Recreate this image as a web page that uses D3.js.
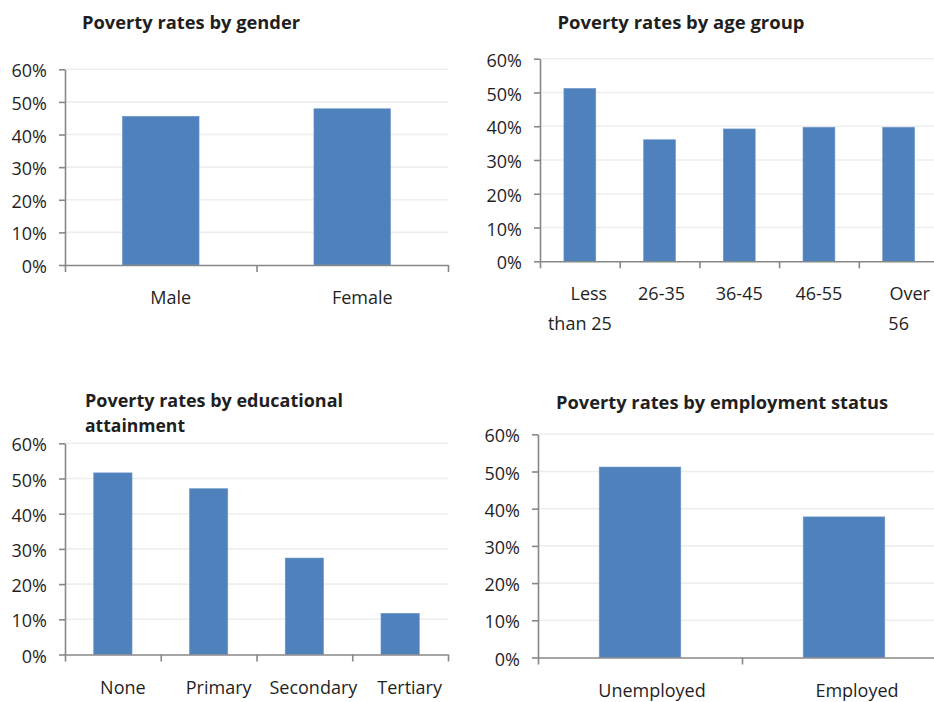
<!DOCTYPE html>
<html>
<head>
<meta charset="utf-8">
<script src="https://cdn.jsdelivr.net/npm/d3@7"></script>
<style>
  html, body { margin: 0; padding: 0; background: #ffffff; }
  svg { display: block; }
  text { font-family: "Open Sans", "Noto Sans", sans-serif; fill: #1f1f1f; }
</style>
</head>
<body>
<svg id="chart" width="934" height="702"></svg>
<script>
// Poverty rates (%) by population group
const genderCategories = ["Male", "Female"];
const genderRates = [45.6, 47.9];

const ageCategories = ["Less\nthan 25", "26-35", "36-45", "46-55", "Over\n56"];
const ageRates = [51.2, 36.0, 39.2, 39.7, 39.7];

const educationCategories = ["None", "Primary", "Secondary", "Tertiary"];
const educationRates = [51.6, 47.1, 27.4, 11.7];

const employmentCategories = ["Unemployed", "Employed"];
const employmentRates = [51.2, 37.8];

const rateTicks = [0, 10, 20, 30, 40, 50, 60];

const genderTitle = ["Poverty rates by gender"];
const ageTitle = ["Poverty rates by age group"];
const educationTitle = ["Poverty rates by educational", "attainment"];
const employmentTitle = ["Poverty rates by employment status"];

// Panel layout: plot area bounds, title placement and label nudges
const panels = [
  { categories: genderCategories, values: genderRates, title: genderTitle,
    left: 65, right: 448, top: 69.3, bottom: 265,
    titleX: 82, titleY: 28.5, titleWidths: [218], labelDx: [[10], [10]] },
  { categories: ageCategories, values: ageRates, title: ageTitle,
    left: 540, right: 938.5, top: 58.7, bottom: 261.3,
    titleX: 557.5, titleY: 28.5, titleWidths: [247], labelDx: [[9, 0], [2], [0], [0], [11, 0]] },
  { categories: educationCategories, values: educationRates, title: educationTitle,
    left: 65, right: 448, top: 443.3, bottom: 654.5,
    titleX: 85, titleY: 407.3, titleWidths: [258, 100], labelDx: [[10], [10], [9], [9.5]] },
  { categories: employmentCategories, values: employmentRates, title: employmentTitle,
    left: 538, right: 946, top: 434.3, bottom: 657.5,
    titleX: 556, titleY: 409, titleWidths: [332], labelDx: [[12], [13]] }
];

const svg = d3.select("#chart");
svg.append("rect").attr("width", 934).attr("height", 702).attr("fill", "#ffffff");

const axisColor = "#878787";
const gridColor = "#EEEEEE";
const barColor = "#4F81BD";

function drawPanel(p) {
  const g = svg.append("g");
  const n = p.categories.length;

  const x = d3.scaleBand()
    .domain(p.categories)
    .range([p.left, p.right])
    .paddingInner(0.6)
    .paddingOuter(0.3);
  const slots = d3.scaleLinear().domain([0, n]).range([p.left, p.right]);
  const y = d3.scaleLinear().domain([0, 60]).range([p.bottom, p.top]);

  // horizontal gridlines
  g.append("g")
    .selectAll("line")
    .data(rateTicks.filter(t => t > 0))
    .join("line")
    .attr("x1", p.left)
    .attr("x2", p.right)
    .attr("y1", d => y(d))
    .attr("y2", d => y(d))
    .attr("stroke", gridColor)
    .attr("stroke-width", 1.6);

  // bars
  g.append("g")
    .selectAll("rect")
    .data(p.values)
    .join("rect")
    .attr("x", (d, i) => x(p.categories[i]))
    .attr("y", d => y(d))
    .attr("width", x.bandwidth())
    .attr("height", d => y(0) - y(d))
    .attr("fill", barColor)
    .attr("stroke", "#6E97CC")
    .attr("stroke-width", 0.6);

  // value axis
  const yAxis = g.append("g")
    .attr("transform", `translate(${p.left},0)`)
    .call(d3.axisLeft(y)
      .tickValues(rateTicks)
      .tickFormat(d => d + "%")
      .tickSize(6)
      .tickSizeOuter(0)
      .tickPadding(12));
  yAxis.select(".domain").attr("stroke", axisColor).attr("stroke-width", 1.6);
  yAxis.selectAll(".tick line").attr("stroke", axisColor).attr("stroke-width", 1.6);
  yAxis.selectAll(".tick text")
    .attr("font-family", "'Open Sans', 'Noto Sans', sans-serif")
    .attr("font-size", 18)
    .attr("fill", "#1f1f1f")
    .attr("dy", "0.42em");

  // category axis with tick marks on slot boundaries
  const xAxis = g.append("g")
    .attr("transform", `translate(0,${p.bottom})`)
    .call(d3.axisBottom(slots)
      .tickValues(d3.range(n + 1))
      .tickFormat("")
      .tickSize(7)
      .tickSizeOuter(0));
  xAxis.select(".domain").attr("stroke", axisColor).attr("stroke-width", 1.6);
  xAxis.selectAll(".tick line").attr("stroke", axisColor).attr("stroke-width", 1.6);

  // category labels (may wrap onto two lines)
  const labels = g.append("g")
    .selectAll("text")
    .data(p.categories)
    .join("text")
    .attr("text-anchor", "middle")
    .attr("font-size", 18)
    .attr("y", p.bottom + 39);
  labels.each(function (d, i) {
    const cx = x(d) + x.bandwidth() / 2;
    d3.select(this).selectAll("tspan")
      .data(d.split("\n"))
      .join("tspan")
      .attr("x", (line, j) => cx + p.labelDx[i][j])
      .attr("dy", (line, j) => j === 0 ? 0 : 30)
      .text(line => line);
  });

  // panel title
  g.append("g")
    .selectAll("text")
    .data(p.title)
    .join("text")
    .attr("x", p.titleX)
    .attr("y", (d, i) => p.titleY + i * 24.4)
    .attr("font-size", 18)
    .attr("font-weight", "bold")
    .attr("fill", "#111111")
    .attr("textLength", (d, i) => p.titleWidths[i])
    .attr("lengthAdjust", "spacingAndGlyphs")
    .text(d => d);
}

panels.forEach(drawPanel);
</script>
</body>
</html>
